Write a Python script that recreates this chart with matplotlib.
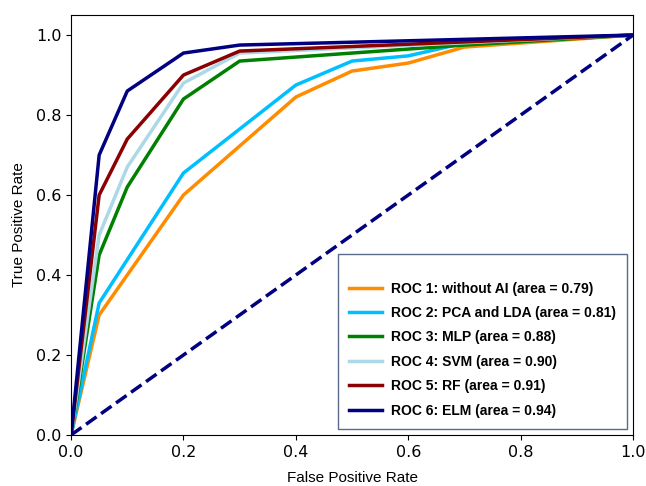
import matplotlib
matplotlib.use("Agg")
import matplotlib.pyplot as plt

# ROC curve data
fpr_1 = [0.0, 0.05, 0.2, 0.4, 0.5, 0.6, 0.7, 1.0]
tpr_1 = [0.0, 0.30, 0.60, 0.845, 0.91, 0.93, 0.97, 1.0]

fpr_2 = [0.0, 0.05, 0.2, 0.4, 0.5, 0.6, 0.7, 1.0]
tpr_2 = [0.0, 0.33, 0.655, 0.875, 0.935, 0.948, 0.98, 1.0]

fpr_3 = [0.0, 0.05, 0.1, 0.2, 0.3, 0.7, 1.0]
tpr_3 = [0.0, 0.45, 0.62, 0.84, 0.935, 0.975, 1.0]

fpr_4 = [0.0, 0.05, 0.1, 0.2, 0.3, 1.0]
tpr_4 = [0.0, 0.50, 0.67, 0.88, 0.955, 1.0]

fpr_5 = [0.0, 0.05, 0.1, 0.2, 0.3, 1.0]
tpr_5 = [0.0, 0.60, 0.74, 0.90, 0.96, 1.0]

fpr_6 = [0.0, 0.05, 0.1, 0.2, 0.3, 1.0]
tpr_6 = [0.0, 0.70, 0.86, 0.955, 0.975, 1.0]

labels = [
    "ROC 1: without AI (area = 0.79)",
    "ROC 2: PCA and LDA (area = 0.81)",
    "ROC 3: MLP (area = 0.88)",
    "ROC 4: SVM (area = 0.90)",
    "ROC 5: RF (area = 0.91)",
    "ROC 6: ELM (area = 0.94)",
]
colors = ["darkorange", "deepskyblue", "green", "lightblue", "darkred", "navy"]

curves = [(fpr_1, tpr_1), (fpr_2, tpr_2), (fpr_3, tpr_3),
          (fpr_4, tpr_4), (fpr_5, tpr_5), (fpr_6, tpr_6)]

fig = plt.figure(figsize=(6.46, 4.86), dpi=100)
ax = fig.add_axes([0.110, 0.105, 0.870, 0.864])

for (x, y), label, color in zip(curves, labels, colors):
    ax.plot(x, y, color=color, lw=2.5, label=label)

ax.plot([0, 1], [0, 1], color="navy", lw=2.5, linestyle="--")

ax.set_xlim(0.0, 1.0)
ax.set_ylim(0.0, 1.05)
ax.tick_params(labelsize=11.5)
ax.set_xlabel("False Positive Rate", fontsize=11, family="Liberation Sans", labelpad=8)
ax.set_ylabel("True Positive Rate", fontsize=11, family="Liberation Sans", labelpad=7)

leg = ax.legend(loc="lower right", bbox_to_anchor=(1.0, 0.0), borderaxespad=0.45,
                fancybox=False, handlelength=2.4, handletextpad=0.6,
                borderpad=0.8, labelspacing=0.75, framealpha=1,
                title=" ", title_fontsize=5,
                prop={"family": "Liberation Sans", "weight": "bold", "size": 10})
leg.get_frame().set_edgecolor("#5a6a8a")
leg.get_frame().set_linewidth(1.0)

fig.savefig("out.png", dpi=100)
